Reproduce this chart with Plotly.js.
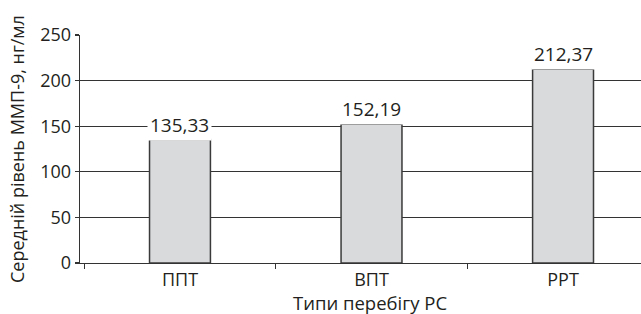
<!DOCTYPE html>
<html>
<head>
<meta charset="utf-8">
<script src="https://cdn.plot.ly/plotly-3.0.1.min.js"></script>
<style>html,body{margin:0;padding:0;background:#fff;overflow:hidden}</style>
</head>
<body>
<div id="chart" style="width:641px;height:314px"></div>
<script>
const categories = ["ППТ", "ВПТ", "РРТ"];
const values = [135.33, 152.19, 212.37];
const yTicks = [0, 50, 100, 150, 200, 250];
const xTitle = "Типи перебігу РС";
const yTitle = "Середній рівень ММП-9, нг/мл";

const FONT = "Open Sans, Noto Sans, sans-serif";
const TXT = "#231f20";

const trace = {
  type: "bar",
  x: categories,
  y: values,
  width: 0.318,
  marker: { color: "#d9dadc", line: { color: "#3a3a3a", width: 1.5 } },
  hoverinfo: "none"
};

const labelAnn = categories.map((c, i) => ({
  x: c, y: values[i], xref: "x", yref: "y",
  text: values[i].toFixed(2).replace(".", ","),
  showarrow: false, yanchor: "bottom", yshift: -1,
  bgcolor: "#ffffff", borderpad: 2,
  font: { family: FONT, size: 19, color: TXT }
}));

const layout = {
  width: 641, height: 314,
  margin: { l: 80, r: 0, t: 35, b: 51 },
  paper_bgcolor: "#fff", plot_bgcolor: "#fff",
  showlegend: false,
  font: { family: FONT, size: 18, color: TXT },
  xaxis: {
    type: "category",
    range: [-0.522, 2.407],
    showline: true, linecolor: "#333", linewidth: 1.3,
    ticks: "outside", tickson: "boundaries", ticklen: 5, tickcolor: "#333", tickwidth: 1.3,
    showgrid: false, zeroline: false,
    tickfont: { family: FONT, size: 18, color: TXT }
  },
  yaxis: {
    range: [0, 250],
    tickvals: yTicks,
    showline: true, linecolor: "#333", linewidth: 1.3,
    ticks: "outside", ticklen: 4, tickcolor: "#333", tickwidth: 1.3,
    showgrid: true, gridcolor: "#333", gridwidth: 1.3,
    zeroline: false,
    tickfont: { family: FONT, size: 18, color: TXT }
  },
  annotations: labelAnn.concat([
    { text: xTitle, xref: "paper", yref: "paper", x: 0.517, y: 0, yshift: -39,
      xanchor: "center", yanchor: "middle", showarrow: false, borderpad: 0,
      font: { family: FONT, size: 18.5, color: TXT } },
    { text: yTitle, xref: "paper", yref: "paper", x: 0, xshift: -63, y: 0.5,
      xanchor: "center", yanchor: "middle", textangle: -90, showarrow: false,
      font: { family: FONT, size: 18, color: TXT } }
  ])
};

Plotly.newPlot("chart", [trace], layout, { displayModeBar: false, staticPlot: true });
</script>
</body>
</html>
